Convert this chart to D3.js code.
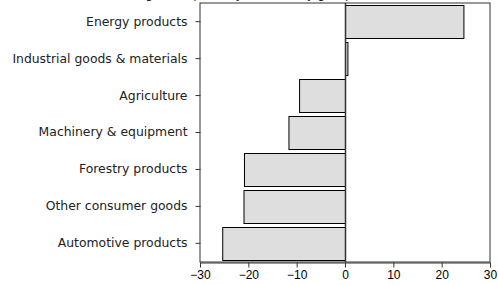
<!DOCTYPE html>
<html>
<head>
  <meta charset="UTF-8">
  <style>
    body { margin: 0; background: #fff; }
    svg { display: block; }
  </style>
</head>
<body>
<svg></svg>
<script src="https://d3js.org/d3.v7.min.js"></script>
<script>

let width = 498, height = 285;

// data, top to bottom
let categories = ["Energy products", "Industrial goods & materials", "Agriculture",
  "Machinery & equipment", "Forestry products", "Other consumer goods", "Automotive products"];
let values = [24.5, 0.5, -9.5, -11.7, -20.9, -21.0, -25.4];
let xTicks = [-30, -20, -10, 0, 10, 20, 30];

let margin = {top: 3, right: 8, bottom: 23, left: 200};

let svg = d3.select("svg")
    .attr("width", width)
    .attr("height", height);

let x = d3.scaleLinear()
    .domain([-30, 30])
    .range([margin.left, width - margin.right]);

let y = d3.scaleBand()
    .domain(categories)
    .range([margin.top, height - margin.bottom])
    .paddingInner(0.11)
    .paddingOuter(0.06);

// title, mostly cut off at the top (as in the source image)
svg.append("text")
    .attr("x", 265)
    .attr("y", -2)
    .attr("text-anchor", "middle")
    .attr("font-family", "DejaVu Sans")
    .attr("font-size", "12px")
    .attr("fill", "#222")
    .text("Change in exports by commodity group, 2009 (%)");

// frame
svg.append("rect")
    .attr("x", x(-30))
    .attr("y", margin.top)
    .attr("width", x(30) - x(-30))
    .attr("height", height - margin.bottom - margin.top)
    .attr("fill", "none")
    .attr("stroke", "#333")
    .attr("stroke-width", 1);

// bars
svg.append("g")
    .selectAll("rect")
    .data(values)
    .enter()
    .append("rect")
    .attr("x", d => Math.min(x(d), x(0)) + 0.5)
    .attr("y", (d, i) => Math.round(y(categories[i])) + 0.5)
    .attr("width", d => Math.abs(x(d) - x(0)))
    .attr("height", Math.round(y.bandwidth()))
    .attr("fill", "#dedede")
    .attr("stroke", "#000")
    .attr("stroke-width", 1);

// zero line
svg.append("line")
    .attr("x1", Math.round(x(0)) + 0.5)
    .attr("x2", Math.round(x(0)) + 0.5)
    .attr("y1", margin.top)
    .attr("y2", height - margin.bottom)
    .attr("stroke", "#333")
    .attr("stroke-width", 1.5);

// x axis
let xAxis = svg.append("g")
    .attr("transform", "translate(0," + (height - margin.bottom + 0.5) + ")")
    .call(d3.axisBottom(x).tickValues(xTicks).tickSize(5).tickSizeOuter(0).tickPadding(2).tickFormat(d3.format("d")));
xAxis.selectAll("text")
    .attr("font-family", "Liberation Sans")
    .attr("font-size", "12px")
    .attr("fill", "#000")
    .attr("dy", "0.75em");
xAxis.select(".domain").attr("stroke", "#333");
xAxis.selectAll(".tick line").attr("stroke", "#333");

// y axis
let yAxis = svg.append("g")
    .attr("transform", "translate(" + (margin.left + 0.5) + ",0)")
    .call(d3.axisLeft(y).tickSize(5).tickSizeOuter(0).tickPadding(8));
yAxis.select(".domain").remove();
yAxis.selectAll("text")
    .attr("font-family", "DejaVu Sans")
    .attr("font-size", "12.4px")
    .attr("fill", "#222");
yAxis.selectAll(".tick line").attr("stroke", "#333");

</script>
</body>
</html>
